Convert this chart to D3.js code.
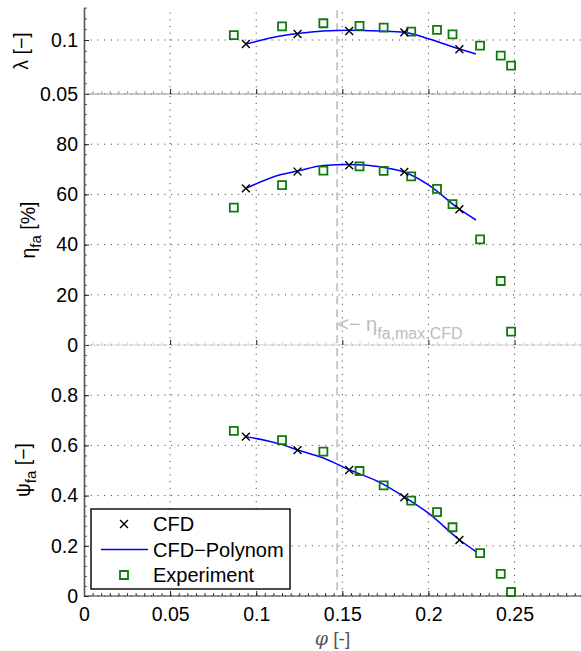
<!DOCTYPE html>
<html>
<head>
<meta charset="utf-8">
<script src="https://d3js.org/d3.v7.min.js"></script>
<style>
body { margin: 0; background: #fff; }
text { font-family: "Liberation Sans", Arial, Helvetica, sans-serif; }
</style>
</head>
<body>
<div id="svgBody"></div>
<script>
// flow coefficient phi of the CFD runs, the polynomial fit and the test rig points
var phiCFD = [0.094, 0.124, 0.154, 0.186, 0.218];
var phiPoly = [0.094, 0.114, 0.124, 0.139, 0.154, 0.172, 0.186, 0.200, 0.218, 0.2276];
var phiExp = [0.087, 0.115, 0.139, 0.160, 0.174, 0.190, 0.205, 0.214, 0.230, 0.242, 0.248];

// lambda [-]
var lambdaCFD = [0.0963, 0.1056, 0.1083, 0.1071, 0.0914];
var lambdaPoly = [0.0963, 0.1037, 0.1060, 0.1083, 0.1090, 0.1083, 0.1071, 0.1012, 0.0917, 0.0870];
var lambdaExp = [0.1046, 0.1127, 0.1155, 0.1130, 0.1114, 0.1077, 0.1093, 0.1053, 0.0947, 0.0855, 0.0762];

// eta_fa [%]
var etaCFD = [62.4, 69.1, 71.6, 69.0, 54.1];
var etaPoly = [62.4, 67.8, 69.3, 71.5, 71.9, 71.0, 68.9, 63.8, 54.1, 49.8];
var etaExp = [54.7, 63.7, 69.5, 71.2, 69.4, 67.2, 62.2, 56.1, 42.1, 25.5, 5.3];

// psi_fa [-]
var psiCFD = [0.635, 0.581, 0.502, 0.393, 0.223];
var psiPoly = [0.635, 0.605, 0.582, 0.550, 0.503, 0.452, 0.395, 0.330, 0.224, 0.177];
var psiExp = [0.658, 0.621, 0.575, 0.498, 0.441, 0.380, 0.334, 0.274, 0.171, 0.088, 0.016];

// tick labels
var xTicks = [0, 0.05, 0.1, 0.15, 0.2, 0.25];
var xTickLabels = ["0", "0.05", "0.1", "0.15", "0.2", "0.25"];
var lambdaTicks = [0.05, 0.1];
var lambdaTickLabels = ["0.05", "0.1"];
var etaTicks = [0, 20, 40, 60, 80];
var etaTickLabels = ["0", "20", "40", "60", "80"];
var psiTicks = [0, 0.2, 0.4, 0.6, 0.8];
var psiTickLabels = ["0", "0.2", "0.4", "0.6", "0.8"];

var phiEtaMax = 0.147;   // position of the dashed marker line

var W = 581, H = 651;
var tickFont = "19.5px";

var svg = d3.select("#svgBody")
    .append("svg")
    .attr("width", W)
    .attr("height", H);

var x = d3.scaleLinear().domain([0, 0.29]).range([84, 583.4]);
var yLambda = d3.scaleLinear().domain([0.05, 0.13]).range([94, 7.6]);
var yEta = d3.scaleLinear().domain([0, 100]).range([345, 94]);
var yPsi = d3.scaleLinear().domain([0, 1]).range([596, 345]);

var panels = [
    {y: yLambda, ticks: lambdaTicks, labels: lambdaTickLabels, minor: 0.01,
     cfd: lambdaCFD, poly: lambdaPoly, exp: lambdaExp, axisColor: "#9a9a9a"},
    {y: yEta, ticks: etaTicks, labels: etaTickLabels, minor: 4,
     cfd: etaCFD, poly: etaPoly, exp: etaExp, axisColor: "#d4d4d4"},
    {y: yPsi, ticks: psiTicks, labels: psiTickLabels, minor: 0.04,
     cfd: psiCFD, poly: psiPoly, exp: psiExp, axisColor: "#333"}
];

var xMinor = d3.range(0, 0.2901, 0.005);
var gridDash = "1,5.7";

panels.forEach(function(p, i) {
    var y0 = p.y.range()[0], y1 = p.y.range()[1];
    var g = svg.append("g");

    // dotted grid
    g.selectAll(".hgrid")
        .data(p.ticks)
        .enter().append("line")
        .attr("x1", x(0)).attr("x2", W)
        .attr("y1", function(d) { return p.y(d); })
        .attr("y2", function(d) { return p.y(d); })
        .attr("stroke", "#333").attr("stroke-width", 1)
        .attr("stroke-dasharray", gridDash);
    g.selectAll(".vgrid")
        .data(xTicks.slice(1))
        .enter().append("line")
        .attr("x1", function(d) { return x(d); })
        .attr("x2", function(d) { return x(d); })
        .attr("y1", y0).attr("y2", y1)
        .attr("stroke", "#333").attr("stroke-width", 1)
        .attr("stroke-dasharray", gridDash);

    // bottom axis of each subplot
    var isBottom = (i == panels.length - 1);
    g.append("line")
        .attr("x1", x(0)).attr("x2", W)
        .attr("y1", y0).attr("y2", y0)
        .attr("stroke", p.axisColor).attr("stroke-width", 1.2);

    var xMin = g.append("g")
        .attr("transform", "translate(0," + y0 + ")")
        .call(d3.axisBottom(x).tickValues(xMinor).tickSize(-3).tickFormat(""));
    xMin.select(".domain").remove();
    xMin.selectAll(".tick line").attr("stroke", isBottom ? "#333" : p.axisColor);

    var xMaj = g.append("g")
        .attr("transform", "translate(0," + y0 + ")")
        .call(d3.axisBottom(x)
            .tickValues(xTicks)
            .tickSize(-5)
            .tickPadding(11)
            .tickFormat(function(d, k) { return isBottom ? xTickLabels[k] : ""; }));
    xMaj.select(".domain").remove();
    xMaj.selectAll(".tick line").attr("stroke", "#222");
    xMaj.selectAll("text")
        .attr("font-size", tickFont)
        .attr("fill", "#000")
        .attr("font-family", "Liberation Sans, Arial, sans-serif");

    // left axis
    var yMinor = d3.range(p.y.domain()[0], p.y.domain()[1] + p.minor / 2, p.minor);
    var yMin = g.append("g")
        .attr("transform", "translate(" + x(0) + ",0)")
        .call(d3.axisLeft(p.y).tickValues(yMinor).tickSize(-3).tickFormat(""));
    yMin.select(".domain").remove();
    yMin.selectAll(".tick line").attr("stroke", "#555");

    var yAx = g.append("g")
        .attr("transform", "translate(" + x(0) + ",0)")
        .call(d3.axisLeft(p.y)
            .tickValues(p.ticks)
            .tickSize(-5)
            .tickSizeOuter(0)
            .tickPadding(6)
            .tickFormat(function(d, k) { return p.labels[k]; }));
    yAx.select(".domain").attr("stroke", "#555").attr("stroke-width", 1.6);
    yAx.selectAll(".tick line").attr("stroke", "#222");
    yAx.selectAll("text")
        .attr("font-size", tickFont)
        .attr("fill", "#000")
        .attr("font-family", "Liberation Sans, Arial, sans-serif");
});

// dashed line at the efficiency optimum of the CFD polynomial
svg.append("line")
    .attr("x1", x(phiEtaMax)).attr("x2", x(phiEtaMax))
    .attr("y1", yLambda(0.1275)).attr("y2", yPsi(0))
    .attr("stroke", "#c8c8c8")
    .attr("stroke-width", 2)
    .attr("stroke-dasharray", "8,5");

svg.append("text")
    .attr("x", x(phiEtaMax))
    .attr("y", yEta(5.6))
    .attr("fill", "#bdbdbd")
    .attr("font-size", "20px")
    .call(function(t) {
        t.append("tspan").text("<\u2212 \u03b7");
        t.append("tspan").attr("dy", 8).attr("font-size", "16px").text("fa,max,CFD");
    });

// curves and markers
var cross = d3.symbol().type(d3.symbolTimes).size(42);
var square = d3.symbol().type(d3.symbolSquare).size(64);

panels.forEach(function(p) {
    var line = d3.line()
        .x(function(d, k) { return x(phiPoly[k]); })
        .y(function(d) { return p.y(d); })
        .curve(d3.curveMonotoneX);

    svg.append("path")
        .datum(p.poly)
        .attr("d", line)
        .attr("fill", "none")
        .attr("stroke", "#0000ff")
        .attr("stroke-width", 1.5);

    svg.selectAll(null)
        .data(p.exp)
        .enter().append("path")
        .attr("d", square)
        .attr("transform", function(d, k) { return "translate(" + x(phiExp[k]) + "," + p.y(d) + ")"; })
        .attr("fill", "none")
        .attr("stroke", "#107a10")
        .attr("stroke-width", 1.8);

    svg.selectAll(null)
        .data(p.cfd)
        .enter().append("path")
        .attr("d", cross)
        .attr("transform", function(d, k) { return "translate(" + x(phiCFD[k]) + "," + p.y(d) + ")"; })
        .attr("fill", "none")
        .attr("stroke", "#000")
        .attr("stroke-width", 1.4);
});

// axis labels
function yLabel(xPos, yPos, main, sub, rest) {
    var t = svg.append("text")
        .attr("transform", "translate(" + xPos + "," + yPos + ") rotate(-90)")
        .attr("text-anchor", "middle")
        .attr("font-size", "19.5px")
        .attr("fill", "#000");
    t.append("tspan").text(main);
    if (sub) {
        t.append("tspan").attr("dy", 6).attr("font-size", "15px").text(sub);
        t.append("tspan").attr("dy", -6).text(rest);
    } else {
        t.append("tspan").text(rest);
    }
}
yLabel(28, 51, "\u03bb", null, " [\u2212]");
yLabel(35, 230, "\u03b7", "fa", " [%]");
yLabel(30, 470, "\u03c8", "fa", " [\u2212]");

svg.append("text")
    .attr("x", (x(0) + W) / 2)
    .attr("y", 645)
    .attr("text-anchor", "middle")
    .attr("font-size", "19px")
    .attr("fill", "#555")
    .call(function(t) {
        t.append("tspan").attr("font-style", "italic").attr("font-family", "DejaVu Serif, serif").text("\u03c6");
        t.append("tspan").text(" [-]");
    });

// legend
var legendItems = ["CFD", "CFD\u2212Polynom", "Experiment"];
var legend = svg.append("g").attr("transform", "translate(91,509)");
legend.append("rect")
    .attr("width", 199).attr("height", 80)
    .attr("fill", "#fff")
    .attr("stroke", "#000")
    .attr("stroke-width", 1.4);

var row = d3.scalePoint().domain(legendItems).range([15, 66]);
legend.selectAll(".ltext")
    .data(legendItems)
    .enter().append("text")
    .attr("x", 62)
    .attr("y", function(d) { return row(d); })
    .attr("dy", "0.35em")
    .attr("font-size", "20px")
    .attr("fill", "#000")
    .text(function(d) { return d; });

legend.append("path")
    .attr("d", cross)
    .attr("transform", "translate(33," + row("CFD") + ")")
    .attr("fill", "none").attr("stroke", "#000").attr("stroke-width", 1.4);
legend.append("line")
    .attr("x1", 10).attr("x2", 57)
    .attr("y1", row("CFD\u2212Polynom")).attr("y2", row("CFD\u2212Polynom"))
    .attr("stroke", "#0000ff").attr("stroke-width", 1.5);
legend.append("path")
    .attr("d", square)
    .attr("transform", "translate(33," + row("Experiment") + ")")
    .attr("fill", "none").attr("stroke", "#107a10").attr("stroke-width", 1.8);
</script>
</body>
</html>
